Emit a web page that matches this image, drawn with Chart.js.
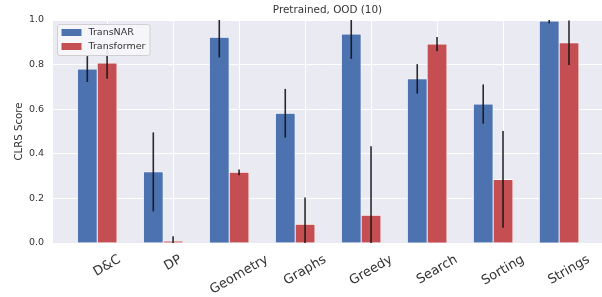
<!DOCTYPE html>
<html>
<head>
<meta charset="utf-8">
<script src="https://cdn.jsdelivr.net/npm/chart.js@4"></script>
<style>
  html, body { margin: 0; padding: 0; background: #fff; }
</style>
</head>
<body>
<canvas id="chart" width="602" height="297"></canvas>
<script>
// ================== DATA ==================
const categories = ['D&C', 'DP', 'Geometry', 'Graphs', 'Greedy', 'Search', 'Sorting', 'Strings'];
const transnarScores = [0.780, 0.319, 0.922, 0.582, 0.937, 0.736, 0.623, 0.995];
const transnarErrors = [0.058, 0.177, 0.090, 0.109, 0.111, 0.066, 0.088, 0.010];
const transformerScores = [0.807, 0.008, 0.317, 0.084, 0.124, 0.892, 0.285, 0.898];
const transformerErrors = [0.071, 0.022, 0.013, 0.120, 0.310, 0.032, 0.217, 0.100];
const yTicks = [0, 0.2, 0.4, 0.6, 0.8, 1.0];

// ================== STYLE ==================
const FONT = 'DejaVu Sans';
const TEXT_COLOR = '#333333';
const BLUE = '#4C72B0';
const RED = '#C44E52';
const BAR_W = 0.3;          // bar width in category units
const X_MIN = -0.82, X_MAX = 7.5;

// Seaborn-like plot background
const plotBackground = {
    id: 'plotBackground',
    beforeDraw(chart) {
        const { ctx, chartArea: a } = chart;
        ctx.save();
        ctx.fillStyle = '#EAEAF2';
        ctx.fillRect(a.left, a.top, a.right - a.left, a.bottom - a.top);
        ctx.restore();

        // centre the rotated x tick labels on their ticks (matplotlib style)
        const xs = chart.scales.x;
        const items = xs.getLabelItems();
        items.forEach((it, i) => {
            ctx.save();
            ctx.font = it.font.string;
            const w = ctx.measureText(it.label).width;
            ctx.restore();
            const size = it.font.size;
            const cx = xs.getPixelForTick(i);
            const cy = xs.top + 10 + (w * 0.5 + size * 0.866) / 2;
            it.textOffset = 0;
            it.options.textAlign = 'center';
            it.options.textBaseline = 'middle';
            it.options.translation = [cx, cy];
        });
    }
};

// Error bars drawn from the error arrays
const errorBars = {
    id: 'errorBars',
    afterDatasetsDraw(chart) {
        const { ctx, chartArea: a } = chart;
        const ys = chart.scales.y;
        const errs = [transnarErrors, transformerErrors];
        ctx.save();
        ctx.beginPath();
        ctx.rect(a.left, a.top, a.right - a.left, a.bottom - a.top);
        ctx.clip();
        ctx.strokeStyle = 'rgba(20,20,20,0.9)';
        ctx.lineWidth = 1.6;
        chart.data.datasets.forEach((ds, d) => {
            const meta = chart.getDatasetMeta(d);
            meta.data.forEach((bar, i) => {
                const v = ds.data[i].y;
                const e = errs[d][i];
                ctx.beginPath();
                ctx.moveTo(bar.x, ys.getPixelForValue(v - e));
                ctx.lineTo(bar.x, ys.getPixelForValue(v + e));
                ctx.stroke();
            });
        });
        ctx.restore();
    }
};

// Legend inside the plot, top-left, on top of the bars
const innerLegend = {
    id: 'innerLegend',
    afterDatasetsDraw(chart) {
        const { ctx, chartArea: a } = chart;
        const x0 = a.left + 4, y0 = a.top + 4;
        ctx.save();
        ctx.font = '9.5px ' + FONT;
        const labels = chart.data.datasets.map(d => d.label);
        const textW = Math.max(...labels.map(l => ctx.measureText(l).width));
        const w = 4.5 + 20 + 7 + textW + 4, h = 31;
        ctx.beginPath();
        ctx.roundRect(x0 + 0.5, y0 + 0.5, w, h, 2.5);
        ctx.fillStyle = 'rgba(234,234,242,0.8)';
        ctx.fill();
        ctx.fillStyle = 'rgba(255,255,255,0.55)';
        ctx.fill();
        ctx.strokeStyle = '#d0d0d0';
        ctx.lineWidth = 1;
        ctx.stroke();
        chart.data.datasets.forEach((ds, i) => {
            const cy = y0 + 8.5 + i * 14;
            ctx.fillStyle = ds.backgroundColor;
            ctx.fillRect(x0 + 4.5, cy - 3.5, 20, 7);
            ctx.fillStyle = TEXT_COLOR;
            ctx.textBaseline = 'middle';
            ctx.textAlign = 'left';
            ctx.fillText(ds.label, x0 + 4.5 + 20 + 7, cy);
        });
        ctx.restore();
    }
};

const ctx = document.getElementById('chart').getContext('2d');

const chart = new Chart(ctx, {
    type: 'bar',
    data: {
        datasets: [
            {
                label: 'TransNAR',
                data: transnarScores.map((v, i) => ({ x: i - BAR_W, y: v })),
                backgroundColor: BLUE,
                borderColor: 'rgba(255,255,255,0.85)',
                borderWidth: 0.8
            },
            {
                label: 'Transformer',
                data: transformerScores.map((v, i) => ({ x: i, y: v })),
                backgroundColor: RED,
                borderColor: 'rgba(255,255,255,0.85)',
                borderWidth: 0.8
            }
        ]
    },
    options: {
        responsive: false,
        animation: false,
        devicePixelRatio: 1,
        layout: { padding: 0 },
        datasets: { bar: { grouped: false, barPercentage: 1, categoryPercentage: 1 } },
        plugins: {
            legend: { display: false },
            title: { display: false },
            tooltip: { enabled: false }
        },
        scales: {
            x: {
                type: 'linear',
                position: 'bottom',
                offset: false,
                min: X_MIN,
                max: X_MAX,
                afterBuildTicks: s => { s.ticks = categories.map((_, i) => ({ value: i })); },
                afterFit: s => { s.height = 54; },
                grid: { color: '#ffffff', lineWidth: 1, drawTicks: false, offset: false },
                border: { display: false },
                ticks: {
                    autoSkip: false,
                    minRotation: 30,
                    maxRotation: 30,
                    padding: 10,
                    color: TEXT_COLOR,
                    font: { family: FONT, size: 13 },
                    callback: v => categories[Math.round(v)]
                }
            },
            top: {
                type: 'linear',
                position: 'top',
                offset: false,
                min: X_MIN,
                max: X_MAX,
                afterFit: s => { s.height = 20; },
                grid: { display: false },
                border: { display: false },
                ticks: { display: false },
                title: {
                    display: true,
                    text: 'Pretrained, OOD (10)',
                    color: TEXT_COLOR,
                    font: { family: FONT, size: 10.4 },
                    padding: { top: 4.5, bottom: 0 }
                }
            },
            y: {
                min: 0,
                max: 1,
                afterBuildTicks: s => { s.ticks = yTicks.map(v => ({ value: v })); },
                afterFit: s => { s.width = 53; },
                grid: { color: '#ffffff', lineWidth: 1, drawTicks: false },
                border: { display: false },
                ticks: {
                    padding: 9,
                    color: TEXT_COLOR,
                    font: { family: FONT, size: 9.5 },
                    callback: v => v.toFixed(1)
                },
                title: {
                    display: true,
                    text: 'CLRS Score',
                    color: TEXT_COLOR,
                    font: { family: FONT, size: 10.2 },
                    padding: { top: 13, bottom: 0 }
                }
            }
        }
    },
    plugins: [plotBackground, errorBars, innerLegend]
});
</script>
</body>
</html>
